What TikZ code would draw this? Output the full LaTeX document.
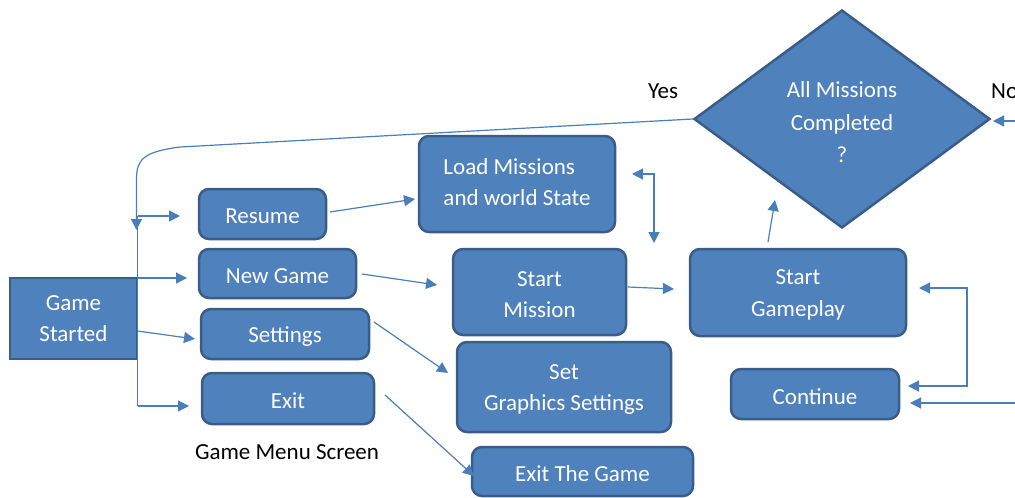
\documentclass[tikz,border=0pt]{standalone}
\usepackage{fontspec}
\setmainfont{Carlito}
\usetikzlibrary{arrows.meta,shapes.geometric}
\definecolor{boxfill}{HTML}{4F81BD}
\definecolor{boxedge}{HTML}{385D8A}
\definecolor{wire}{HTML}{4A7EBB}
\begin{document}
\begin{tikzpicture}[x=1pt,y=-1pt,
  txt/.style={font=\fontsize{23}{31.5}\selectfont},
  boxtext/.style={txt, text=white, align=center, inner sep=0pt, yshift=-2.5pt},
  box/.style={draw=boxedge, fill=boxfill, line width=2.5pt, rounded corners=10pt, inner sep=0pt},
  flatbox/.style={box, rounded corners=0pt},
  decide/.style={diamond, draw=boxedge, fill=boxfill, line width=2.5pt, inner sep=0pt},
  link/.style={draw=wire, line width=1.2pt},
  tip/.style={-{Triangle[length=11pt,width=11pt]}},
  both/.style={{Triangle[length=11pt,width=11pt]}-{Triangle[length=11pt,width=11pt]}},
  caption/.style={txt, text=black, inner sep=0pt}
]
\useasboundingbox (0,0) rectangle (1015,498);

% boxes with their captions
\node[flatbox, minimum width=127pt, minimum height=81pt,
  label={[boxtext, yshift=2.5pt]center:Game\\Started}] (start) at (73.5,318.5) {};
\node[box, minimum width=127pt, minimum height=50pt,
  label={[boxtext]center:Resume}] (resume) at (262.5,214) {};
\node[box, minimum width=157pt, minimum height=49pt,
  label={[boxtext]center:New Game}] (newgame) at (277.5,273.5) {};
\node[box, minimum width=168pt, minimum height=50pt,
  label={[boxtext]center:Settings}] (settings) at (285,334) {};
\node[box, minimum width=172pt, minimum height=51pt,
  label={[boxtext]center:Exit}] (exit) at (288,398.5) {};
\node[box, minimum width=196pt, minimum height=96pt,
  label={[boxtext, align=left, yshift=4.5pt]center:Load Missions\\and world State}] (load) at (517,184) {};
\node[box, minimum width=173pt, minimum height=86pt,
  label={[boxtext]center:Start\\Mission}] (mission) at (539.5,292) {};
\node[box, minimum width=214pt, minimum height=90pt,
  label={[boxtext]center:Set\\Graphics Settings}] (graphics) at (564,387) {};
\node[box, minimum width=221pt, minimum height=49pt,
  label={[boxtext]center:Exit The Game}] (quit) at (582.5,471.5) {};
\node[box, minimum width=216pt, minimum height=87pt,
  label={[boxtext]center:Start\\Gameplay}] (gameplay) at (798,292.5) {};
\node[box, minimum width=168pt, minimum height=50pt,
  label={[boxtext]center:Continue}] (continue) at (815,394) {};
\node[decide, minimum width=296pt, minimum height=218pt,
  label={[boxtext, font=\fontsize{23}{32.5}\selectfont, yshift=-1pt]center:All Missions\\Completed\\?}] (done) at (842,119) {};

% labels
\node[caption] (yes) at (663,91) {Yes};
\node[caption, anchor=west] (no) at (991,91) {No};
\node[caption] (menu) at (287,452) {Game Menu Screen};

% connector end points
\coordinate (busTop) at (137.5,216);
\coordinate (busBot) at (137.5,406);
\coordinate (busNew) at (137.5,278);
\coordinate (busSet) at (137.5,331);
\coordinate (loopIn) at (136.5,230);
\coordinate (bendA) at (180,147);
\coordinate (resumeIn) at (180,216);
\coordinate (newIn) at (187,278);
\coordinate (setIn) at (195,339);
\coordinate (exitIn) at (189,406);
\coordinate (resumeOut) at (330,212);
\coordinate (loadIn) at (415,199);
\coordinate (newOut) at (362,274);
\coordinate (missionIn) at (437,285);
\coordinate (settingsOut) at (374,322);
\coordinate (graphicsIn) at (448,373);
\coordinate (exitOut) at (385,395);
\coordinate (quitIn) at (474,476);
\coordinate (missionOut) at (628,287);
\coordinate (gameplayIn) at (674,289);
\coordinate (gameplayOut) at (768,242);
\coordinate (doneIn) at (775,200);
\coordinate (loadBack) at (632,174);
\coordinate (loadCorner) at (654,174);
\coordinate (missionBack) at (654,243);
\coordinate (gameplayBack) at (919,288);
\coordinate (loopCorner) at (967,288);
\coordinate (loopLow) at (967,386);
\coordinate (continueIn) at (908,386);
\coordinate (continueIn2) at (910,403);
\coordinate (rightEdgeLow) at (1016,403);
\coordinate (rightEdgeHigh) at (1016,121);
\coordinate (doneNo) at (993,121);

% menu bus from Game Started
\draw[link] (busTop) -- (busBot);
\draw[link, tip] (busTop) -- (resumeIn);
\draw[link, tip] (busNew) -- (newIn);
\draw[link, tip] (busSet) -- (setIn);
\draw[link, tip] (busBot) -- (exitIn);

% return from the decision back to the menu
\draw[link, tip] (done.west) -- (bendA) .. controls (142,152) and (136.5,160) .. (136.5,180) -- (loopIn);

% menu actions
\draw[link, tip] (resumeOut) -- (loadIn);
\draw[link, tip] (newOut) -- (missionIn);
\draw[link, tip] (settingsOut) -- (graphicsIn);
\draw[link, tip] (exitOut) -- (quitIn);
\draw[link, tip] (missionOut) -- (gameplayIn);
\draw[link, tip] (gameplayOut) -- (doneIn);
\draw[link, both] (loadBack) -- (loadCorner) -- (missionBack);

% continue loop
\draw[link, both] (gameplayBack) -- (loopCorner) -- (loopLow) -- (continueIn);
\draw[link, tip] (rightEdgeLow) -- (continueIn2);
\draw[link, tip] (rightEdgeHigh) -- (doneNo);
\end{tikzpicture}
\end{document}
